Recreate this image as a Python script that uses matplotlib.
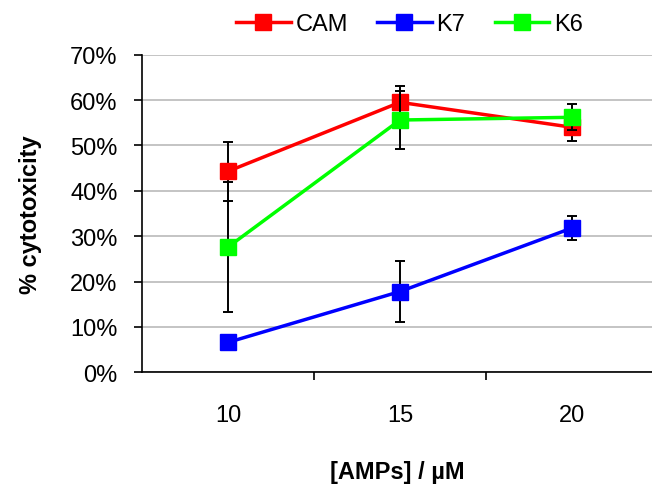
import matplotlib
matplotlib.use("Agg")
import matplotlib.pyplot as plt
import numpy as np

plt.rcParams['font.family'] = ['Liberation Sans', 'DejaVu Sans']

concentrations = ['10', '15', '20']
cam = [44.3, 59.5, 54.0]
cam_err = [6.5, 3.6, 3.1]
k7 = [6.6, 17.8, 31.8]
k7_err = [0.0, 6.7, 2.7]
k6 = [27.6, 55.6, 56.2]
k6_err = [14.4, 6.4, 2.9]

series = [
    ('CAM', cam, cam_err, '#ff0000'),
    ('K7', k7, k7_err, '#0000ff'),
    ('K6', k6, k6_err, '#00ff00'),
]

fs = 17

fig = plt.figure(figsize=(6.52, 4.85), dpi=100)
ax = fig.add_axes([0.2178, 0.2303, 0.7822, 0.6549])

x = np.arange(len(concentrations))
for z, (name, vals, err, color) in enumerate(series):
    ax.errorbar(x, vals, yerr=err, fmt='none', ecolor='black', elinewidth=1.4,
                capsize=3.5, capthick=1.4, zorder=3 + 2 * z)
    ax.plot(x, vals, color=color, lw=2.5, marker='s', markersize=11,
            label=name, zorder=4 + 2 * z)

ax.set_xlim(-0.5, 2.465)
ax.set_ylim(0, 70)
ax.set_yticks(np.arange(0, 71, 10))
ax.set_yticklabels([f'{v}%' for v in range(0, 71, 10)])
ax.yaxis.grid(True, color='#bfbfbf', lw=1.3)
ax.set_axisbelow(True)

ax.set_xticks(x)
ax.set_xticklabels(concentrations)
ax.set_xticks([0.5, 1.5], minor=True)
ax.tick_params(axis='x', which='major', length=0, pad=23, labelsize=fs)
ax.tick_params(axis='x', which='minor', length=6, width=1.2, direction='out')
ax.tick_params(axis='y', length=5.5, width=1.2, direction='out', pad=12, labelsize=fs)

for s in ['top', 'right']:
    ax.spines[s].set_visible(False)
for s in ['left', 'bottom']:
    ax.spines[s].set_linewidth(1.2)

ax.set_ylabel('% cytotoxicity', fontsize=fs, fontweight='bold', labelpad=20)
ax.set_xlabel('[AMPs] / µM', fontsize=fs, fontweight='bold', labelpad=24)

fig.legend(*ax.get_legend_handles_labels(), loc='center', bbox_to_anchor=(0.628, 0.948),
           ncol=3, frameon=False, fontsize=fs, handlelength=2.3,
           columnspacing=1.25, handletextpad=0.2, borderaxespad=0)

fig.savefig('out.png', dpi=100)
